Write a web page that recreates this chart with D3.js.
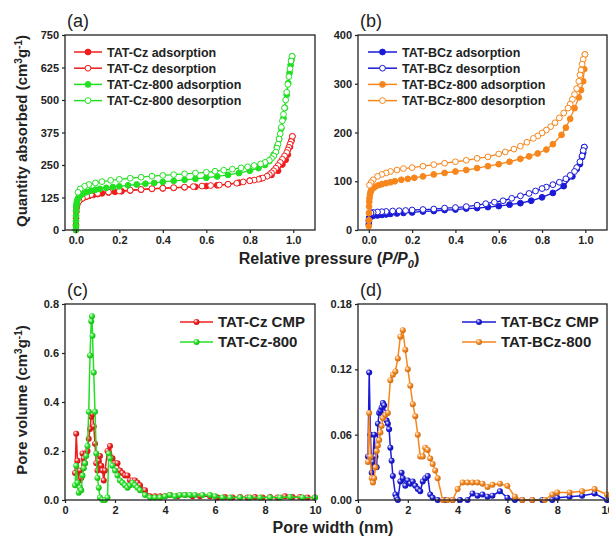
<!DOCTYPE html>
<html>
<head>
<meta charset="utf-8">
<script src="https://cdn.jsdelivr.net/npm/d3@7"></script>
<style>
  body { margin: 0; background: #fff; }
  svg { font-family: "Liberation Sans", Arial, sans-serif; }
</style>
</head>
<body>
<div id="chart"></div>
<script>
// (a) N2 isotherms, TAT-Cz series  [P/P0, quantity]
const czAds = [[0,0],[0.0005,20],[0.001,45],[0.002,70],[0.003,85],[0.005,95],[0.008,103],[0.012,110],[0.02,117],[0.03,122],[0.045,127],[0.06,131],[0.08,135],[0.1,138],[0.12,141],[0.15,144],[0.18,147],[0.21,149],[0.25,152],[0.3,155],[0.35,158],[0.4,160],[0.45,162],[0.5,164],[0.55,166],[0.6,169],[0.65,172],[0.7,176],[0.75,182],[0.8,190],[0.85,198],[0.9,212],[0.93,228],[0.95,252],[0.965,270],[0.975,290],[0.985,320],[0.992,345],[0.996,360]]
const czDes = [[0.996,360],[0.99,340],[0.985,330],[0.98,318],[0.975,308],[0.97,298],[0.96,285],[0.95,272],[0.94,260],[0.93,248],[0.92,238],[0.91,228],[0.9,220],[0.89,213],[0.88,207],[0.86,200],[0.84,195],[0.82,192],[0.8,189],[0.77,185],[0.74,180],[0.7,176],[0.66,173],[0.62,171],[0.58,169],[0.54,167],[0.5,165],[0.45,163],[0.4,161],[0.35,159],[0.3,156],[0.25,153],[0.2,150],[0.15,146],[0.1,141],[0.07,136],[0.05,130],[0.03,122],[0.015,112]]
const cz800Ads = [[0,0],[0.0003,15],[0.0006,35],[0.001,55],[0.0015,75],[0.002,90],[0.003,100],[0.005,110],[0.008,118],[0.012,125],[0.018,131],[0.025,136],[0.035,141],[0.05,146],[0.07,151],[0.09,155],[0.11,158],[0.14,162],[0.17,165],[0.2,168],[0.24,172],[0.28,175],[0.32,178],[0.36,181],[0.4,185],[0.45,189],[0.5,193],[0.55,197],[0.6,201],[0.65,206],[0.7,212],[0.75,219],[0.8,228],[0.84,238],[0.87,250],[0.89,265],[0.91,290],[0.925,320],[0.935,350],[0.945,390],[0.955,430],[0.962,470],[0.97,520],[0.977,565],[0.983,605],[0.988,635],[0.992,655],[0.995,668]]
const cz800Des = [[0.995,668],[0.99,650],[0.985,620],[0.98,590],[0.975,560],[0.97,530],[0.965,500],[0.96,470],[0.955,445],[0.95,420],[0.945,395],[0.94,370],[0.935,350],[0.93,330],[0.925,315],[0.92,300],[0.91,285],[0.9,275],[0.89,268],[0.87,260],[0.85,254],[0.82,248],[0.79,243],[0.76,239],[0.72,234],[0.68,230],[0.64,226],[0.6,222],[0.55,219],[0.5,216],[0.45,213],[0.4,210],[0.35,207],[0.3,203],[0.25,199],[0.2,195],[0.16,191],[0.12,186],[0.09,181],[0.06,175],[0.04,168],[0.02,158],[0.01,145]]

// (b) N2 isotherms, TAT-BCz series
const bczAds = [[0,12],[0.0005,18],[0.001,22],[0.002,25],[0.005,27],[0.01,28],[0.02,29],[0.04,30],[0.06,31],[0.08,32],[0.1,33],[0.13,34],[0.16,35],[0.2,36],[0.25,38],[0.3,39],[0.35,41],[0.4,42],[0.45,44],[0.5,45],[0.55,47],[0.6,49],[0.65,52],[0.7,55],[0.75,60],[0.8,67],[0.85,76],[0.9,90],[0.94,110],[0.96,125],[0.975,135],[0.985,150],[0.99,158],[0.995,170]]
const bczDes = [[0.995,170],[0.99,163],[0.985,152],[0.975,140],[0.96,128],[0.95,120],[0.93,112],[0.91,105],[0.88,98],[0.85,93],[0.82,88],[0.8,85],[0.77,80],[0.74,75],[0.7,70],[0.66,65],[0.62,60],[0.58,57],[0.54,54],[0.5,51],[0.45,48],[0.4,46],[0.35,45],[0.3,43],[0.25,42],[0.2,41],[0.17,40],[0.14,39.5],[0.11,39],[0.08,38],[0.06,37.5],[0.04,37],[0.02,36],[0.01,35]]
const bcz800Ads = [[0,8],[0.0003,20],[0.0006,35],[0.001,48],[0.002,58],[0.003,65],[0.005,72],[0.008,78],[0.012,82],[0.02,86],[0.03,89],[0.045,92],[0.06,94],[0.08,96],[0.1,98],[0.12,100],[0.15,103],[0.18,105],[0.21,107],[0.25,110],[0.3,114],[0.35,117],[0.4,120],[0.45,123],[0.5,127],[0.55,131],[0.6,135],[0.65,140],[0.7,146],[0.74,151],[0.78,157],[0.82,165],[0.85,176],[0.89,195],[0.91,210],[0.93,228],[0.95,250],[0.97,272],[0.98,287],[0.99,305],[0.995,330],[0.998,360]]
const bcz800Des = [[0.998,360],[0.99,350],[0.985,340],[0.98,328],[0.975,318],[0.97,305],[0.96,290],[0.95,278],[0.94,268],[0.93,258],[0.92,250],[0.9,240],[0.88,230],[0.86,220],[0.84,212],[0.82,205],[0.8,199],[0.78,193],[0.76,188],[0.73,180],[0.7,172],[0.67,166],[0.63,160],[0.6,156],[0.55,150],[0.5,147],[0.45,143],[0.4,140],[0.35,137],[0.3,134],[0.25,131],[0.2,128],[0.16,126],[0.13,123],[0.1,120],[0.08,117],[0.06,114],[0.04,110],[0.02,103],[0.01,97],[0.003,92]]

// (c) pore size distribution, TAT-Cz  [width nm, volume]
const czPsd = [[0.4,0.11],[0.45,0.27],[0.5,0.16],[0.55,0.08],[0.6,0.12],[0.65,0.09],[0.7,0.19],[0.75,0.17],[0.8,0.15],[0.85,0.19],[0.9,0.2],[0.95,0.25],[1.0,0.29],[1.05,0.34],[1.1,0.35],[1.15,0.3],[1.2,0.23],[1.25,0.15],[1.3,0.12],[1.35,0.16],[1.4,0.18],[1.45,0.14],[1.5,0.12],[1.55,0.08],[1.6,0.12],[1.7,0.2],[1.8,0.22],[1.9,0.17],[2.0,0.15],[2.1,0.15],[2.2,0.12],[2.3,0.11],[2.4,0.1],[2.5,0.1],[2.6,0.08],[2.7,0.08],[2.8,0.08],[2.9,0.07],[3.0,0.06],[3.2,0.04],[3.4,0.015],[3.6,0.015],[3.8,0.015],[4.0,0.015],[4.2,0.02],[4.5,0.015],[4.8,0.02],[5.1,0.015],[5.4,0.015],[5.8,0.015],[6.1,0.01],[6.4,0.012],[6.7,0.01],[7.0,0.012],[7.3,0.01],[7.6,0.012],[7.9,0.01],[8.2,0.012],[8.5,0.01],[8.8,0.015],[9.1,0.012],[9.4,0.012],[9.7,0.01],[10,0.01]]
const cz800Psd = [[0.4,0.06],[0.45,0.14],[0.5,0.07],[0.55,0.03],[0.6,0.05],[0.65,0.04],[0.7,0.1],[0.75,0.13],[0.8,0.15],[0.85,0.18],[0.9,0.22],[0.95,0.36],[1.0,0.59],[1.05,0.73],[1.08,0.75],[1.1,0.67],[1.15,0.52],[1.2,0.36],[1.25,0.19],[1.3,0.09],[1.35,0.05],[1.4,0.01],[1.5,0.0],[1.6,0.0],[1.7,0.01],[1.75,0.19],[1.8,0.17],[1.9,0.14],[2.0,0.12],[2.1,0.1],[2.2,0.08],[2.3,0.07],[2.4,0.06],[2.5,0.05],[2.6,0.06],[2.7,0.07],[2.8,0.06],[2.9,0.05],[3.0,0.04],[3.2,0.02],[3.4,0.01],[3.6,0.01],[3.8,0.01],[4.0,0.015],[4.2,0.02],[4.4,0.015],[4.6,0.02],[4.8,0.02],[5.0,0.02],[5.2,0.02],[5.5,0.02],[5.8,0.02],[6.0,0.015],[6.3,0.01],[6.6,0.01],[7.0,0.01],[7.4,0.01],[7.8,0.01],[8.2,0.01],[8.6,0.01],[9.0,0.012],[9.5,0.01],[10,0.01]]

// (d) pore size distribution, TAT-BCz
const bczPsd = [[0.4,0.04],[0.45,0.117],[0.5,0.06],[0.55,0.025],[0.6,0.035],[0.65,0.06],[0.7,0.04],[0.75,0.03],[0.8,0.07],[0.85,0.08],[0.9,0.082],[0.95,0.085],[1.0,0.089],[1.05,0.087],[1.1,0.08],[1.15,0.073],[1.2,0.07],[1.25,0.065],[1.3,0.048],[1.35,0.036],[1.4,0.022],[1.5,0.005],[1.55,0.002],[1.6,0.0],[1.7,0.017],[1.75,0.025],[1.8,0.02],[1.9,0.013],[2.0,0.018],[2.1,0.015],[2.2,0.017],[2.3,0.013],[2.4,0.01],[2.5,0.008],[2.6,0.017],[2.7,0.02],[2.8,0.022],[2.9,0.005],[3.0,0.002],[3.2,0.0],[3.5,0.0],[3.8,0.0],[4.1,0.0],[4.4,0.0],[4.6,0.006],[4.8,0.004],[5.0,0.005],[5.2,0.003],[5.4,0.004],[5.7,0.008],[6.0,0.002],[6.3,0.0],[6.6,0.0],[7.0,0.0],[7.4,0.0],[7.8,0.0],[8.0,0.002],[8.5,0.003],[9.0,0.004],[9.5,0.006],[10,0.0]]
const bcz800Psd = [[0.4,0.035],[0.45,0.08],[0.5,0.04],[0.55,0.02],[0.6,0.016],[0.65,0.02],[0.7,0.03],[0.75,0.045],[0.8,0.05],[0.85,0.055],[0.9,0.062],[0.95,0.068],[1.0,0.075],[1.1,0.078],[1.2,0.08],[1.3,0.11],[1.4,0.115],[1.5,0.118],[1.6,0.13],[1.7,0.15],[1.8,0.156],[1.9,0.138],[2.0,0.12],[2.1,0.105],[2.2,0.088],[2.3,0.077],[2.4,0.06],[2.5,0.04],[2.6,0.04],[2.7,0.048],[2.8,0.046],[2.9,0.038],[3.0,0.033],[3.1,0.027],[3.2,0.02],[3.4,0.0],[3.6,0.0],[3.8,0.0],[4.0,0.01],[4.2,0.016],[4.4,0.016],[4.6,0.016],[4.8,0.016],[5.0,0.015],[5.2,0.012],[5.4,0.014],[5.7,0.015],[6.0,0.013],[6.3,0.003],[6.6,0.0],[7.0,0.0],[7.5,0.0],[7.8,0.005],[8.0,0.007],[8.5,0.007],[9.0,0.008],[9.5,0.01],[10,0.005]]

const pTicks = [0, 0.2, 0.4, 0.6, 0.8, 1.0]
const aTicks = [0, 125, 250, 375, 500, 625, 750]
const bTicks = [0, 100, 200, 300, 400]
const wTicks = [0, 2, 4, 6, 8, 10]
const cTicks = [0, 0.2, 0.4, 0.6, 0.8]
const dTicks = [0, 0.06, 0.12, 0.18]

const RED = '#f01c1c', GREEN = '#22e022', BLUE = '#1a1ad8', ORANGE = '#f7861c'

const svg = d3.select('#chart').append('svg')
  .attr('width', 609)
  .attr('height', 539)

const defs = svg.append('defs')
function ballGrad(id, color) {
  const g = defs.append('radialGradient').attr('id', id)
    .attr('cx', '40%').attr('cy', '40%').attr('r', '60%').attr('fx', '35%').attr('fy', '30%')
  g.append('stop').attr('offset', '0%').attr('stop-color', '#fff')
  g.append('stop').attr('offset', '55%').attr('stop-color', color)
  g.append('stop').attr('offset', '100%').attr('stop-color', d3.color(color).darker(0.6))
}
ballGrad('ballRed', RED); ballGrad('ballGreen', GREEN)
ballGrad('ballBlue', BLUE); ballGrad('ballOrange', ORANGE)

function panel(o) {
  const x = d3.scaleLinear().domain(o.xd).range([o.x0, o.x1])
  const y = d3.scaleLinear().domain(o.yd).range([o.y1, o.y0])
  const g = svg.append('g')
  const content = g.append('g')

  g.append('g')
    .attr('transform', `translate(0,${o.y1})`)
    .call(d3.axisBottom(x).tickValues(o.xt).tickFormat(d3.format(o.xf)).tickSizeOuter(0).tickSize(3))
    .call(s => s.select('.domain').remove())
  g.append('g')
    .attr('transform', `translate(${o.x0},0)`)
    .call(d3.axisLeft(y).tickValues(o.yt).tickFormat(d3.format(o.yf)).tickSizeOuter(0).tickSize(3))
    .call(s => s.select('.domain').remove())
  g.selectAll('.tick text')
    .style('font-family', '"Liberation Sans", Arial, sans-serif')
    .style('font-weight', 'bold').style('font-size', '11px').attr('fill', '#222')
  g.selectAll('.tick line').attr('stroke', '#222').attr('stroke-width', 1.2)

  g.append('rect')
    .attr('x', o.x0).attr('y', o.y0)
    .attr('width', o.x1 - o.x0).attr('height', o.y1 - o.y0)
    .attr('fill', 'none').attr('stroke', '#222').attr('stroke-width', 1.3)

  g.append('text').attr('x', o.x0 + 2).attr('y', o.y0 - 8)
    .attr('font-size', 18).attr('fill', '#222').text(o.tag)

  return { x, y, content }
}

function isoSeries(p, data, color, open) {
  const line = d3.line().x(d => p.x(d[0])).y(d => p.y(d[1]))
  p.content.append('path').datum(data)
    .attr('d', line).attr('fill', 'none').attr('stroke', color).attr('stroke-width', 1.3)
  p.content.selectAll(null).data(data).join('circle')
    .attr('cx', d => p.x(d[0])).attr('cy', d => p.y(d[1])).attr('r', 2.9)
    .attr('fill', open ? '#fff' : color)
    .attr('stroke', color).attr('stroke-width', 1)
}

function psdSeries(p, data, color, grad) {
  const line = d3.line().x(d => p.x(d[0])).y(d => p.y(d[1]))
  p.content.append('path').datum(data)
    .attr('d', line).attr('fill', 'none').attr('stroke', color).attr('stroke-width', 1.5)
  p.content.selectAll(null).data(data).join('circle')
    .attr('cx', d => p.x(d[0])).attr('cy', d => p.y(d[1])).attr('r', 3)
    .attr('fill', `url(#${grad})`)
}

function legend(items, x, y0, dy, size, len, r, psd) {
  const g = svg.append('g')
  items.forEach((it, i) => {
    const yy = y0 + i * dy
    g.append('line').attr('x1', x).attr('x2', x + len).attr('y1', yy).attr('y2', yy)
      .attr('stroke', it.color).attr('stroke-width', 1.5)
    g.append('circle').attr('cx', x + len / 2).attr('cy', yy).attr('r', r)
      .attr('fill', psd ? `url(#${it.grad})` : (it.open ? '#fff' : it.color))
      .attr('stroke', psd ? 'none' : it.color).attr('stroke-width', 1)
    g.append('text').attr('x', x + len + 5).attr('y', yy + size * 0.36)
      .attr('font-size', size).attr('font-weight', 'bold').attr('fill', '#222').text(it.label)
  })
}

// panel (a)
const pa = panel({ x0: 65, x1: 315, y0: 35, y1: 230, xd: [-0.05, 1.1], yd: [0, 750],
  xt: pTicks, yt: aTicks, xf: '.1f', yf: 'd', tag: '(a)' })
isoSeries(pa, czAds, RED, false)
isoSeries(pa, czDes, RED, true)
isoSeries(pa, cz800Ads, GREEN, false)
isoSeries(pa, cz800Des, GREEN, true)
legend([
  { label: 'TAT-Cz adsorption', color: RED },
  { label: 'TAT-Cz desorption', color: RED, open: true },
  { label: 'TAT-Cz-800 adsorption', color: GREEN },
  { label: 'TAT-Cz-800 desorption', color: GREEN, open: true }
], 74, 52, 16.2, 12.5, 28, 2.9, false)

// panel (b)
const pb = panel({ x0: 358, x1: 607, y0: 35, y1: 230, xd: [-0.05, 1.1], yd: [0, 400],
  xt: pTicks, yt: bTicks, xf: '.1f', yf: 'd', tag: '(b)' })
isoSeries(pb, bczAds, BLUE, false)
isoSeries(pb, bczDes, BLUE, true)
isoSeries(pb, bcz800Ads, ORANGE, false)
isoSeries(pb, bcz800Des, ORANGE, true)
legend([
  { label: 'TAT-BCz adsorption', color: BLUE },
  { label: 'TAT-BCz desorption', color: BLUE, open: true },
  { label: 'TAT-BCz-800 adsorption', color: ORANGE },
  { label: 'TAT-BCz-800 desorption', color: ORANGE, open: true }
], 368, 52, 16.2, 12.5, 29, 2.9, false)

// panel (c)
const pc = panel({ x0: 65, x1: 315, y0: 304, y1: 500, xd: [0, 10], yd: [0, 0.8],
  xt: wTicks, yt: cTicks, xf: 'd', yf: '.1f', tag: '(c)' })
psdSeries(pc, czPsd, RED, 'ballRed')
psdSeries(pc, cz800Psd, GREEN, 'ballGreen')
legend([
  { label: 'TAT-Cz CMP', color: RED, grad: 'ballRed' },
  { label: 'TAT-Cz-800', color: GREEN, grad: 'ballGreen' }
], 180, 322, 20, 15, 33, 3, true)

// panel (d)
const pd = panel({ x0: 358, x1: 607, y0: 304, y1: 500, xd: [0, 10], yd: [0, 0.18],
  xt: wTicks, yt: dTicks, xf: 'd', yf: '.2f', tag: '(d)' })
psdSeries(pd, bczPsd, BLUE, 'ballBlue')
psdSeries(pd, bcz800Psd, ORANGE, 'ballOrange')
legend([
  { label: 'TAT-BCz CMP', color: BLUE, grad: 'ballBlue' },
  { label: 'TAT-BCz-800', color: ORANGE, grad: 'ballOrange' }
], 462, 322, 20, 15, 34, 3, true)

// axis titles
const yA = svg.append('text').attr('transform', 'translate(27,131) rotate(-90)')
  .attr('text-anchor', 'middle').attr('font-size', 15).attr('font-weight', 'bold').attr('fill', '#222')
yA.append('tspan').text('Quantity absorbed (cm')
yA.append('tspan').attr('dy', -5).attr('font-size', 10).text('3')
yA.append('tspan').attr('dy', 5).text('g')
yA.append('tspan').attr('dy', -5).attr('font-size', 10).text('-1')
yA.append('tspan').attr('dy', 5).text(')')

const yC = svg.append('text').attr('transform', 'translate(27,400) rotate(-90)')
  .attr('text-anchor', 'middle').attr('font-size', 15).attr('font-weight', 'bold').attr('fill', '#222')
yC.append('tspan').text('Pore volume (cm')
yC.append('tspan').attr('dy', -5).attr('font-size', 10).text('3')
yC.append('tspan').attr('dy', 5).text('g')
yC.append('tspan').attr('dy', -5).attr('font-size', 10).text('-1')
yC.append('tspan').attr('dy', 5).text(')')

const xA = svg.append('text').attr('x', 329).attr('y', 264)
  .attr('text-anchor', 'middle').attr('font-size', 16).attr('font-weight', 'bold').attr('fill', '#222')
xA.append('tspan').text('Relative pressure (')
xA.append('tspan').attr('font-style', 'italic').text('P/P')
xA.append('tspan').attr('font-style', 'italic').attr('font-size', 11).attr('dy', 4).text('0')
xA.append('tspan').attr('dy', -4).text(')')

svg.append('text').attr('x', 333).attr('y', 533)
  .attr('text-anchor', 'middle').attr('font-size', 16).attr('font-weight', 'bold').attr('fill', '#222')
  .text('Pore width (nm)')
</script>
</body>
</html>
